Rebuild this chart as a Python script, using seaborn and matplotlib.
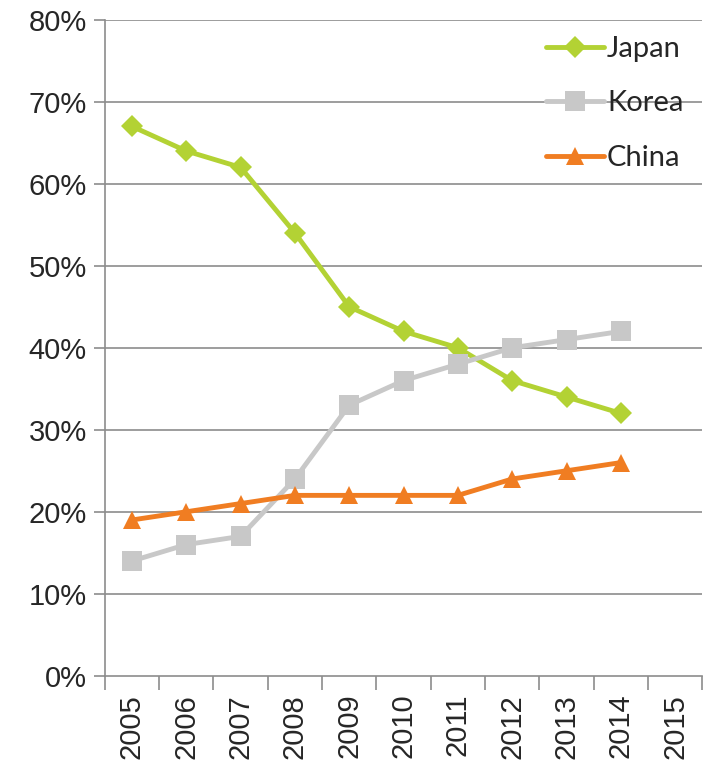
import pandas as pd
import matplotlib.pyplot as plt
import seaborn as sns
from matplotlib.ticker import FixedLocator, PercentFormatter

# data
years = ["2005", "2006", "2007", "2008", "2009", "2010", "2011", "2012", "2013", "2014", "2015"]
japan = [67, 64, 62, 54, 45, 42, 40, 36, 34, 32]
korea = [14, 16, 17, 24, 33, 36, 38, 40, 41, 42]
china = [19, 20, 21, 22, 22, 22, 22, 24, 25, 26]

series = {"Japan": japan, "Korea": korea, "China": china}
colors = {"Japan": "#B3D234", "Korea": "#C8C8C8", "China": "#F07D22"}
markers = {"Japan": "D", "Korea": "s", "China": "^"}
msizes = {"Japan": 11, "Korea": 14, "China": 13}

rows = []
for name, vals in series.items():
    for i, v in enumerate(vals):
        rows.append({"pos": i, "share": v, "country": name})
df = pd.DataFrame(rows)

sns.set_style("white")
plt.rcParams["font.family"] = ["Liberation Sans", "DejaVu Sans"]

fig = plt.figure(figsize=(7.08, 7.61), dpi=100)
ax = fig.add_axes([0.148, 0.112, 0.844, 0.862])

grid_col = "#8C8C8C"
for y in range(10, 81, 10):
    ax.axhline(y, color=grid_col, lw=1.2, zorder=0)

for name in series:
    sub = df[df["country"] == name]
    sns.lineplot(data=sub, x="pos", y="share", ax=ax, color=colors[name],
                 lw=3.5, marker=markers[name], markersize=msizes[name],
                 markeredgewidth=0, label=name, zorder=3)

ax.set_xlim(-0.5, len(years) - 0.5)
ax.set_ylim(0, 80)
ax.set_xlabel("")
ax.set_ylabel("")

ax.set_xticks(range(len(years)))
ax.set_xticklabels(years, rotation=90, fontsize=21)
ax.xaxis.set_minor_locator(FixedLocator([i - 0.5 for i in range(len(years) + 1)]))
ax.tick_params(axis="x", which="major", length=0, pad=13)
ax.tick_params(axis="x", which="minor", length=10, width=1.2, color=grid_col, direction="out", bottom=True)

ax.set_yticks(range(0, 81, 10))
ax.yaxis.set_major_formatter(PercentFormatter(decimals=0))
ax.tick_params(axis="y", length=8, width=1.2, color=grid_col, direction="out", left=True, labelsize=21, pad=5)

for side in ["top", "right"]:
    ax.spines[side].set_visible(False)
for side in ["left", "bottom"]:
    ax.spines[side].set_color(grid_col)
    ax.spines[side].set_linewidth(1.2)

leg = ax.legend(loc="upper right", bbox_to_anchor=(0.995, 1.0), frameon=False,
                prop={"family": "Lato", "size": 21}, handlelength=2.0,
                handletextpad=0.1, labelspacing=0.98, borderaxespad=0.15)

fig.savefig("out.png", dpi=100)
